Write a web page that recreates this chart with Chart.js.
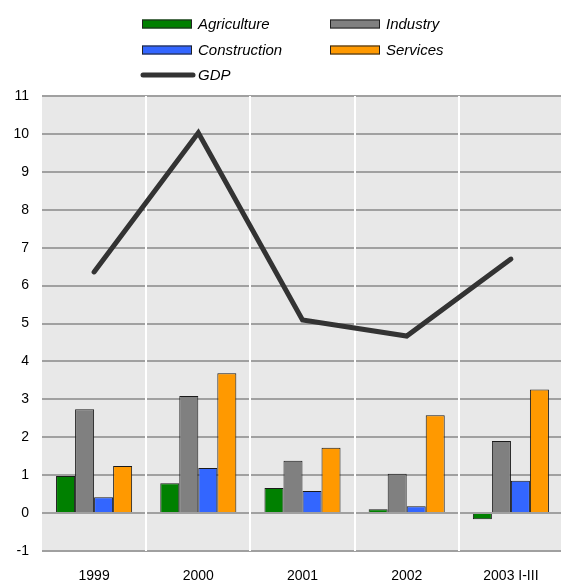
<!DOCTYPE html>
<html>
<head>
<meta charset="utf-8">
<script src="https://cdn.jsdelivr.net/npm/chart.js@4/dist/chart.umd.min.js"></script>
<style>
  html, body { margin: 0; padding: 0; background: #ffffff; overflow: hidden; }
  #wrap { width: 561px; height: 580px; position: relative; overflow: hidden; }
</style>
</head>
<body>
<div id="wrap"><canvas id="c" width="563" height="580"></canvas></div>
<script>
// Growth contributions by sector (percentage points) and GDP growth (%)
const categories   = ['1999', '2000', '2001', '2002', '2003 I-III'];
const agriculture  = [0.98, 0.79, 0.66, 0.10, -0.16];
const industry     = [2.74, 3.09, 1.38, 1.04, 1.90];
const construction = [0.42, 1.19, 0.58, 0.18, 0.85];
const services     = [1.24, 3.69, 1.72, 2.58, 3.26];
const gdp          = [6.36, 10.03, 5.09, 4.67, 6.70];
const yTicks       = [-1, 0, 1, 2, 3, 4, 5, 6, 7, 8, 9, 10, 11];

const FONT = '"Liberation Sans", Arial, sans-serif';

// Grey plot background plus white separators between categories
const plotBackground = {
  id: 'plotBackground',
  beforeDraw(chart) {
    const { ctx, chartArea: a } = chart;
    ctx.save();
    ctx.fillStyle = '#e8e8e8';
    ctx.fillRect(a.left, a.top, a.right - a.left, a.bottom - a.top);
    ctx.restore();
  },
  beforeDatasetsDraw(chart) {
    const { ctx, chartArea: a, scales } = chart;
    const x = scales.x;
    ctx.save();
    ctx.strokeStyle = '#ffffff';
    ctx.lineWidth = 2;
    for (let i = 1; i < categories.length; i++) {
      const px = Math.round((x.getPixelForValue(i - 1) + x.getPixelForValue(i)) / 2);
      ctx.beginPath();
      ctx.moveTo(px, a.top);
      ctx.lineTo(px, a.bottom);
      ctx.stroke();
    }
    ctx.restore();
  }
};

// Two-column legend above the plot
const gridLegend = {
  id: 'gridLegend',
  afterDraw(chart) {
    const { ctx } = chart;
    const cols = [142, 330];
    const rows = [24, 50, 75];
    ctx.save();
    ctx.font = 'italic 15px ' + FONT;
    ctx.textBaseline = 'middle';
    ctx.fillStyle = '#000000';
    chart.data.datasets.forEach((ds, i) => {
      const x = cols[i % 2];
      const y = rows[Math.floor(i / 2)];
      if (ds.type === 'line') {
        ctx.strokeStyle = ds.borderColor;
        ctx.lineWidth = 5;
        ctx.lineCap = 'round';
        ctx.beginPath();
        ctx.moveTo(x + 1, y);
        ctx.lineTo(x + 51, y);
        ctx.stroke();
      } else {
        ctx.fillStyle = ds.backgroundColor;
        ctx.fillRect(x, y - 4.5, 50, 9);
        ctx.strokeStyle = '#222222';
        ctx.lineWidth = 1;
        ctx.strokeRect(x + 0.5, y - 4, 49, 8);
      }
      ctx.fillStyle = '#000000';
      ctx.fillText(ds.label, x + 56, y + 1);
    });
    ctx.restore();
  }
};

const barStyle = { borderColor: '#1a1a1a', borderWidth: 1, barPercentage: 1.0, categoryPercentage: 0.73, order: 2 };

new Chart(document.getElementById('c'), {
  data: {
    labels: categories,
    datasets: [
      Object.assign({ type: 'bar', label: 'Agriculture',  data: agriculture,  backgroundColor: '#008000' }, barStyle),
      Object.assign({ type: 'bar', label: 'Industry',     data: industry,     backgroundColor: '#808080' }, barStyle),
      Object.assign({ type: 'bar', label: 'Construction', data: construction, backgroundColor: '#3366ff' }, barStyle),
      Object.assign({ type: 'bar', label: 'Services',     data: services,     backgroundColor: '#ff9900' }, barStyle),
      { type: 'line', label: 'GDP', data: gdp, borderColor: '#333333', borderWidth: 5,
        borderCapStyle: 'round', borderJoinStyle: 'miter', pointRadius: 0, tension: 0, fill: false, order: 1 }
    ]
  },
  options: {
    responsive: false,
    animation: false,
    layout: { padding: { top: 96, right: 0, left: 0, bottom: 0 } },
    plugins: { legend: { display: false }, tooltip: { enabled: false } },
    scales: {
      x: {
        grid: { display: false },
        border: { display: false },
        ticks: { color: '#000000', font: { family: FONT, size: 14 }, padding: 9, maxRotation: 0 },
        afterFit(s) { s.height = 29; }
      },
      y: {
        min: -1, max: 11,
        afterBuildTicks(s) { s.ticks = yTicks.map(v => ({ value: v })); },
        grid: { color: '#a0a0a0', lineWidth: 2, drawTicks: false },
        border: { display: false },
        ticks: { color: '#000000', font: { family: FONT, size: 14 }, padding: 13 },
        afterFit(s) { s.width = 42; }
      }
    }
  },
  plugins: [plotBackground, gridLegend]
});
</script>
</body>
</html>
